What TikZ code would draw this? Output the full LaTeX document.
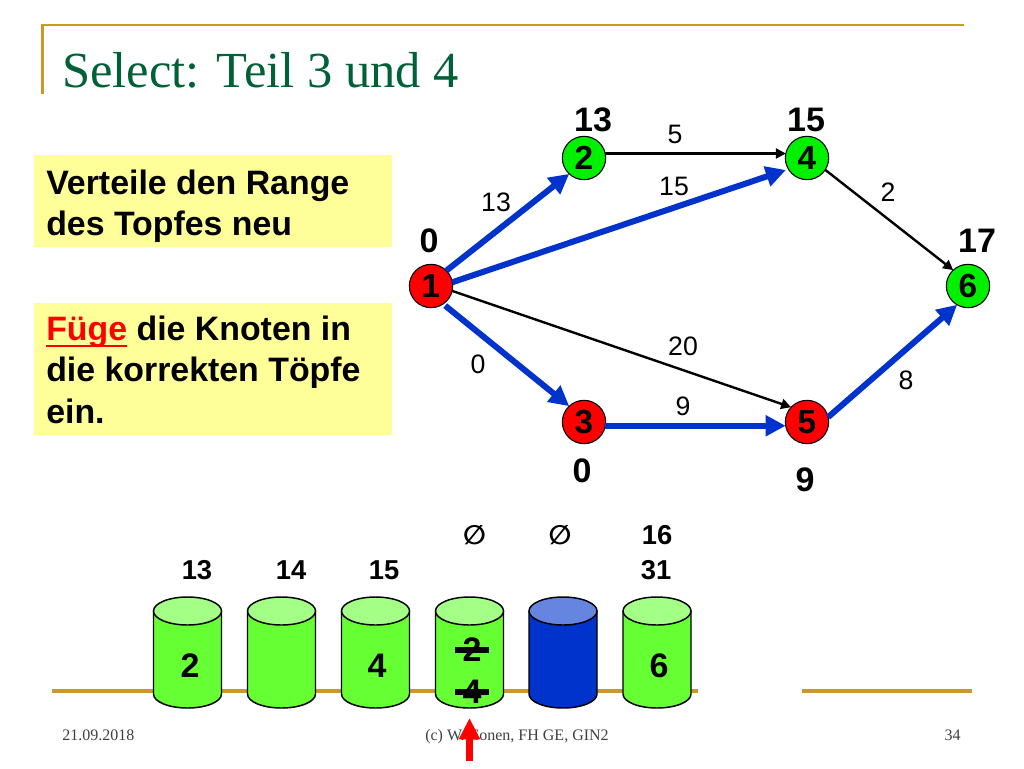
\documentclass[tikz,border=0pt]{standalone}
\usepackage{fontspec}
\setmainfont{Liberation Sans}
\newfontfamily\serifface{Liberation Serif}
\newfontfamily\symface{DejaVu Sans}
\usetikzlibrary{arrows.meta}
\definecolor{gold}{RGB}{204,153,40}
\definecolor{titlegreen}{RGB}{0,97,55}
\definecolor{paleyellow}{RGB}{255,255,153}
\definecolor{edgeblue}{RGB}{0,51,204}
\definecolor{nodegreen}{RGB}{0,240,0}
\definecolor{cylgreen}{RGB}{102,255,51}
\definecolor{cyltop}{RGB}{163,255,133}
\definecolor{blutop}{RGB}{102,133,224}
\newcommand{\heavyline}[1]{\setbox0\hbox{#1}\rlap{\vrule width\wd0 height -3.5pt depth 5.4pt}\box0}
\newcommand{\cyl}[3]{%
  \fill[#2] (#1-34,611) -- (#1-34,694) arc[start angle=180,end angle=0,x radius=34,y radius=14] -- (#1+34,611) -- cycle;
  \draw[cylline] (#1-34,611) -- (#1-34,694) arc[start angle=180,end angle=0,x radius=34,y radius=14] -- (#1+34,611);
  \draw[cylline,fill=#3] (#1,611) ellipse[x radius=34,y radius=14];
}
\tikzset{
  x=0.75pt,y=-0.75pt,
  goldline/.style={draw=gold,line width=2.3pt},
  graphnode/.style={circle,draw=black,line width=0.8pt,minimum size=32.5pt,inner sep=0pt,outer sep=0pt,font=\fontsize{25}{25}\selectfont\bfseries,text=black},
  rednode/.style={graphnode,fill=red},
  greennode/.style={graphnode,fill=nodegreen},
  blueedge/.style={draw=edgeblue,line width=4.5pt,-{Triangle[length=15pt,width=15pt]}},
  blackedge/.style={draw=black,line width=1.8pt,-{Triangle[length=7.5pt,width=7.5pt]}},
  weight/.style={font=\fontsize{20}{20}\selectfont,text=black},
  dist/.style={font=\fontsize{25.5}{25.5}\selectfont\bfseries,text=black},
  bucketlabel/.style={font=\fontsize{20.5}{20.5}\selectfont\bfseries,text=black},
  bucketitem/.style={font=\fontsize{25.5}{25.5}\selectfont\bfseries,text=black},
  cylline/.style={draw=black,line width=1.1pt},
  infotext/.style={anchor=base west,font=\fontsize{25.4}{25.4}\selectfont\bfseries,text=black,inner sep=0pt},
  footer/.style={font=\serifface\fontsize{12}{12}\selectfont,text=black!75,inner sep=0pt},
  strike/.style={draw=black,line width=5pt},
  emptyset/.style={font=\symface\bfseries\fontsize{20}{20}\selectfont,text=black},
}
\begin{document}
\begin{tikzpicture}
\useasboundingbox (0,0) rectangle (1024,768);
\fill[white] (0,0) rectangle (1024,768);
% frame
\coordinate (topleft) at (42.5,25);
\coordinate (topright) at (964,25);
\coordinate (leftend) at (42.5,94);
\draw[gold,line width=1.9pt] (leftend) -- (topleft) -- (topright);
\coordinate (ba) at (52,691); \coordinate (bb) at (698,691);
\coordinate (bc) at (802,691); \coordinate (bd) at (972,691);
\draw[goldline] (ba) -- (bb);
\draw[goldline] (bc) -- (bd);
\node[anchor=base west,inner sep=0pt,text=titlegreen,font=\serifface\fontsize{37.9}{37.9}\selectfont] (title) at (62,87) {Select: Teil 3 und 4};
% boxes
\fill[paleyellow] (34,155) rectangle (392,247);
\fill[paleyellow] (34,303) rectangle (392,435);
\node[infotext] (t1) at (46,194) {Verteile den Range};
\node[infotext] (t2) at (46,235) {des Topfes neu};
\node[infotext] (t3) at (46,340) {\textcolor{red}{\heavyline{Füge}} die Knoten in};
\node[infotext] (t4) at (46,381) {die korrekten Töpfe};
\node[infotext] (t5) at (46,423) {ein.};
% graph
\node[rednode] (n1) at (431,286) {1};
\node[greennode] (n2) at (584,158) {2};
\node[greennode] (n4) at (807,158) {4};
\node[greennode] (n6) at (968,286) {6};
\node[rednode] (n3) at (584,422) {3};
\node[rednode] (n5) at (807,422) {5};
\draw[blueedge] (n1.45) -- (n2.227);
\draw[blueedge,shorten >=2pt] (n1.10) -- (n4.211);
\draw[blueedge,shorten <=2pt] (n1.-56) -- (n3.133);
\draw[blueedge] (n3.-10) -- (n5.190);
\draw[blueedge] (n5.13) -- (n6.240);
\draw[blackedge] (n2.12) -- (n4.168);
\draw[blackedge] (n4.-33) -- (n6.133);
\draw[blackedge] (n1.-13) -- (n5.137);
\node[weight] (w1) at (496,202) {13};
\node[weight] (w2) at (675,134) {5};
\node[weight] (w3) at (674,186) {15};
\node[weight] (w4) at (888,192) {2};
\node[weight] (w5) at (683,346) {20};
\node[weight] (w6) at (478,364) {0};
\node[weight] (w7) at (683,406) {9};
\node[weight] (w8) at (906,380) {8};
\node[dist] (d1) at (429,241) {0};
\node[dist] (d2) at (593,120) {13};
\node[dist] (d4) at (806,120) {15};
\node[dist] (d6) at (977,241) {17};
\node[dist] (d3) at (582,471) {0};
\node[dist] (d5) at (805,480) {9};
% buckets
\cyl{187.5}{cylgreen}{cyltop}
\cyl{281.5}{cylgreen}{cyltop}
\cyl{375.5}{cylgreen}{cyltop}
\cyl{469.5}{cylgreen}{cyltop}
\cyl{563}{edgeblue}{blutop}
\cyl{657}{cylgreen}{cyltop}
\node[bucketlabel] (l1) at (197,570) {13};
\node[bucketlabel] (l2) at (291,570) {14};
\node[bucketlabel] (l3) at (384,570) {15};
\node[bucketlabel] (l4) at (656,570) {31};
\node[bucketlabel] (l5) at (657,535) {16};
\node[emptyset] (e1) at (474.5,535) {∅};
\node[emptyset] (e2) at (560,535) {∅};
\node[bucketitem] (i1) at (190,666) {2};
\node[bucketitem] (i3) at (377,666) {4};
\node[bucketitem] (i6) at (659,666) {6};
\node[bucketitem] (i41) at (472,650) {2};
\node[bucketitem] (i42) at (472,692) {4};
\draw[strike] ([xshift=-12.5pt]i41.center) -- ([xshift=12.5pt]i41.center);
\draw[strike] ([xshift=-12.5pt]i42.center) -- ([xshift=13pt]i42.center);
% footer
\node[footer,anchor=base west] (f1) at (62,740) {21.09.2018};
\node[footer,anchor=base] (f2) at (517,740) {(c) W. Conen, FH GE, GIN2};
\node[footer,anchor=base east] (f3) at (961,740) {34};
% pointer
\coordinate (pa) at (469.5,761); \coordinate (pb) at (469.5,718);
\draw[red,line width=5pt,-{Triangle[length=16pt,width=15pt]}] (pa) -- (pb);
\end{tikzpicture}
\end{document}
